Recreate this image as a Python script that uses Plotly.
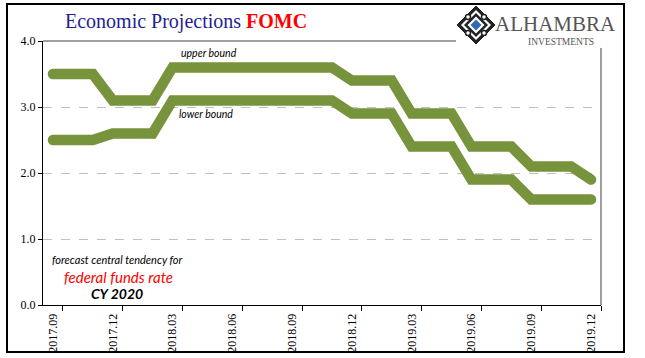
import plotly.graph_objects as go

months = ["2017.09", "2017.10", "2017.11", "2017.12", "2018.01", "2018.02", "2018.03",
          "2018.04", "2018.05", "2018.06", "2018.07", "2018.08", "2018.09", "2018.10",
          "2018.11", "2018.12", "2019.01", "2019.02", "2019.03", "2019.04", "2019.05",
          "2019.06", "2019.07", "2019.08", "2019.09", "2019.10", "2019.11", "2019.12"]
upper_bound = [3.5, 3.5, 3.5, 3.1, 3.1, 3.1, 3.6, 3.6, 3.6, 3.6, 3.6, 3.6, 3.6, 3.6,
               3.6, 3.4, 3.4, 3.4, 2.9, 2.9, 2.9, 2.4, 2.4, 2.4, 2.1, 2.1, 2.1, 1.9]
lower_bound = [2.5, 2.5, 2.5, 2.6, 2.6, 2.6, 3.1, 3.1, 3.1, 3.1, 3.1, 3.1, 3.1, 3.1,
               3.1, 2.9, 2.9, 2.9, 2.4, 2.4, 2.4, 1.9, 1.9, 1.9, 1.6, 1.6, 1.6, 1.6]
tick_labels = ["2017.09", "2017.12", "2018.03", "2018.06", "2018.09", "2018.12",
               "2019.03", "2019.06", "2019.09", "2019.12"]
y_ticks = [0, 1, 2, 3, 4]

W, H = 645, 358
L, R, T, B = 43, 601, 41, 305

def px(x):
    return (x - L) / (R - L)

def py(y):
    return (B - y) / (B - T)

idx = list(range(len(months)))
tick_pos = [months.index(m) for m in tick_labels]
GREEN = "#77933C"

fig = go.Figure()
for vals, name in [(upper_bound, "upper bound"), (lower_bound, "lower bound")]:
    fig.add_trace(go.Scatter(x=idx, y=vals, mode="lines", name=name,
                             line=dict(color=GREEN, width=10.5), showlegend=False))

serif = "Liberation Serif"
fig.update_layout(
    width=W, height=H,
    margin=dict(l=L, r=W - R, t=T, b=H - B),
    paper_bgcolor="white", plot_bgcolor="white",
    xaxis=dict(range=[-0.5, len(months) - 0.5], tickmode="array", tickvals=tick_pos,
               ticktext=tick_labels, tickangle=-90, ticks="", showgrid=False,
               showline=True, linecolor="black", linewidth=1, zeroline=False,
               automargin=False, ticklabelstandoff=3,
               tickfont=dict(family=serif, size=12, color="black"),
               minor=dict(tickmode="array", tickvals=[p + 0.5 for p in tick_pos],
                          ticks="outside", ticklen=5, tickcolor="black", showgrid=False)),
    yaxis=dict(range=[0, 4], tickmode="array", tickvals=y_ticks, tickformat=".1f",
               ticks="outside", ticklen=4, tickcolor="black", showline=True,
               linecolor="black", linewidth=1, zeroline=False, showgrid=True,
               gridcolor="#C0C0C0", griddash="dash", gridwidth=1, automargin=False,
               tickfont=dict(family=serif, size=12, color="black")),
)

shapes = [
    dict(type="line", xref="paper", yref="paper", x0=0, x1=1, y0=1, y1=1,
         line=dict(color="#808080", width=1.5)),
    dict(type="line", xref="paper", yref="paper", x0=1, x1=1, y0=0, y1=1,
         line=dict(color="#808080", width=1.5)),
    dict(type="rect", xref="paper", yref="paper", x0=px(456), x1=px(614), y0=py(48),
         y1=py(2), fillcolor="white", line=dict(width=0)),
    dict(type="rect", xref="paper", yref="paper", x0=px(7), x1=px(624), y0=py(352),
         y1=py(4), line=dict(color="black", width=2)),
]

cx, cy = 476, 25
def diamond(h, **kw):
    return dict(type="path", xref="paper", yref="paper",
                path=(f"M {px(cx)} {py(cy - h)} L {px(cx + h)} {py(cy)} "
                      f"L {px(cx)} {py(cy + h)} L {px(cx - h)} {py(cy)} Z"), **kw)
shapes.append(diamond(19, fillcolor="#222222", line=dict(color="#222222", width=1)))
shapes.append(diamond(15, fillcolor="white", line=dict(width=0)))
shapes.append(diamond(12, fillcolor="#222222", line=dict(width=0)))
shapes.append(diamond(8.5, fillcolor="white", line=dict(width=0)))
shapes.append(diamond(5.5, fillcolor="#2E6DB4", line=dict(width=0)))
for dx, dy in [(-8, -8), (8, -8), (-8, 8), (8, 8)]:
    shapes.append(dict(type="circle", xref="paper", yref="paper",
                       x0=px(cx + dx - 2.5), x1=px(cx + dx + 2.5),
                       y0=py(cy + dy + 2.5), y1=py(cy + dy - 2.5),
                       fillcolor="white", line=dict(color="#222222", width=1.5)))
fig.update_layout(shapes=shapes)

sans = "Lato"
annots = [
    dict(x=px(186), y=py(22), text="<span style='color:#1F1F8F'>Economic Projections</span> "
         "<b><span style='color:#FF0000'>FOMC</span></b>",
         font=dict(family=serif, size=20)),
    dict(x=px(555), y=py(24), text="ALHAMBRA", font=dict(family=serif, size=21, color="#555555")),
    dict(x=px(561), y=py(42), text="INVESTMENTS", font=dict(family=serif, size=9.5, color="#555555")),
    dict(x=px(209), y=py(53), text="<i>upper bound</i>", font=dict(family=sans, size=10.5, color="black")),
    dict(x=px(206), y=py(114), text="<i>lower bound</i>", font=dict(family=sans, size=10.5, color="black")),
    dict(x=px(117), y=py(259), text="<i>forecast central tendency for</i>",
         font=dict(family=sans, size=11, color="black")),
    dict(x=px(118), y=py(277), text="<i>federal funds rate</i>",
         font=dict(family=sans, size=15, color="#FF0000")),
    dict(x=px(117), y=py(293), text="<b><i>CY 2020</i></b>",
         font=dict(family=sans, size=14, color="black")),
]
for a in annots:
    a.update(xref="paper", yref="paper", xanchor="center", yanchor="middle", showarrow=False)
fig.update_layout(annotations=annots)

post_js = ("document.body.style.margin='0';"
           "var st=document.createElement('style');"
           "st.textContent='.js-line{stroke-linecap:round !important;}';"
           "document.head.appendChild(st);")
fig.write_html("out.html", post_script=post_js, config={"displayModeBar": False})
